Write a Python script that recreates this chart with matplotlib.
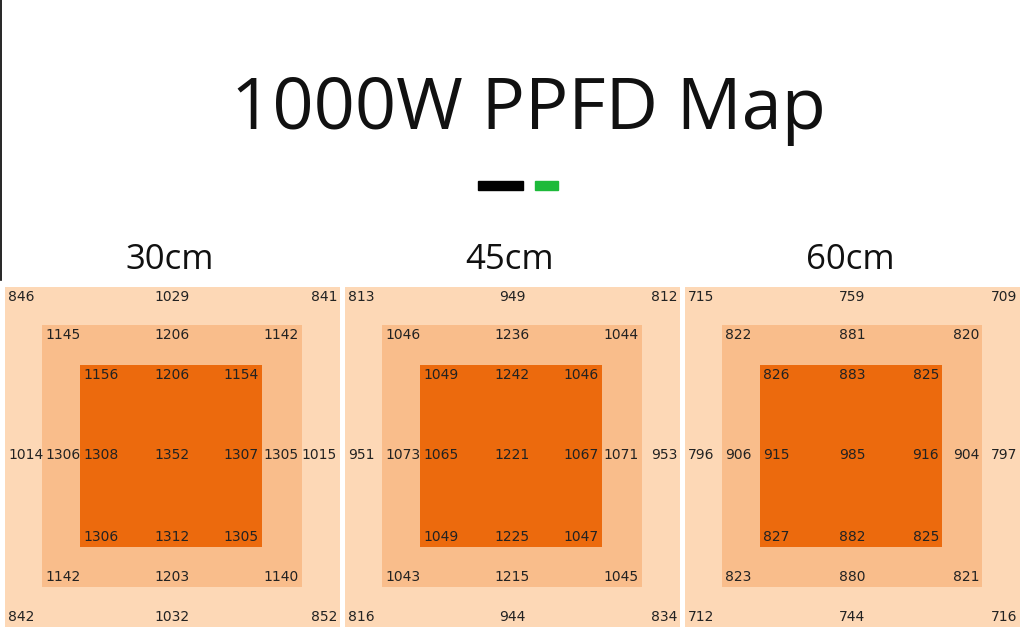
import matplotlib
matplotlib.use("Agg")
import matplotlib.pyplot as plt
from matplotlib.patches import Rectangle

heights = ["30cm", "45cm", "60cm"]
# per ring: [top-left, top, top-right, left, right, bottom-left, bottom, bottom-right]
outer = [
    [846, 1029, 841, 1014, 1015, 842, 1032, 852],
    [813, 949, 812, 951, 953, 816, 944, 834],
    [715, 759, 709, 796, 797, 712, 744, 716],
]
middle = [
    [1145, 1206, 1142, 1306, 1305, 1142, 1203, 1140],
    [1046, 1236, 1044, 1073, 1071, 1043, 1215, 1045],
    [822, 881, 820, 906, 904, 823, 880, 821],
]
inner = [
    [1156, 1206, 1154, 1308, 1307, 1306, 1312, 1305],
    [1049, 1242, 1046, 1065, 1067, 1049, 1225, 1047],
    [826, 883, 825, 915, 916, 827, 882, 825],
]
center = [1352, 1221, 985]

ring_colors = ["#fdd8b6", "#f9bd8b", "#ec6a0d"]

fig = plt.figure(figsize=(10.24, 6.31), dpi=100)
ax = fig.add_axes([0, 0, 1, 1])
ax.set_xlim(0, 1024)
ax.set_ylim(631, 0)
ax.axis("off")

ax.plot([1, 1], [0, 280], color="black", lw=1.2)
ax.text(528, 110, "1000W PPFD Map", ha="center", va="center", fontsize=52,
        family="Open Sans", color="#111111")
ax.add_patch(Rectangle((478, 181), 45, 9, color="black"))
ax.add_patch(Rectangle((535, 181), 23, 9, color="#1dba3a"))

panel_x = [5, 345, 685]
fs = 10
for i, px in enumerate(panel_x):
    cx = px + 167
    ax.text(px + 165, 260, heights[i], ha="center", va="center", fontsize=25,
            family="Open Sans", color="#111111")
    rings = [
        (px, 287, 335, 340, outer[i]),
        (px + 37, 325, 260, 262, middle[i]),
        (px + 75, 365, 182, 182, inner[i]),
    ]
    for k, (x0, y0, w, h, vals) in enumerate(rings):
        ax.add_patch(Rectangle((x0, y0), w, h, color=ring_colors[k], lw=0))
    for k, (x0, y0, w, h, vals) in enumerate(rings):
        top, bot = y0 + 10, y0 + h - 10
        mid = 455
        l, r = x0 + 3, x0 + w - 3
        pos = [(l, top, "left"), (cx, top, "center"), (r, top, "right"),
               (l, mid, "left"), (r, mid, "right"),
               (l, bot, "left"), (cx, bot, "center"), (r, bot, "right")]
        for (x, y, ha), v in zip(pos, vals):
            ax.text(x, y, str(v), ha=ha, va="center", fontsize=fs, color="#222222")
    ax.text(cx, 455, str(center[i]), ha="center", va="center", fontsize=fs, color="#222222")

fig.savefig("out.png", dpi=100)
